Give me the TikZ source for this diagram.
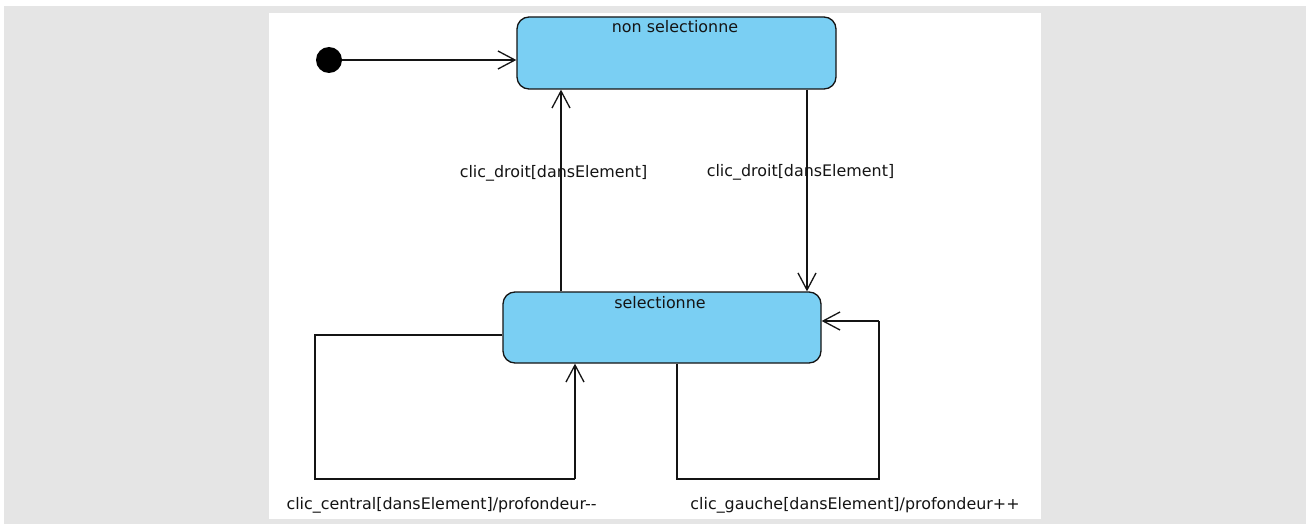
\documentclass[tikz,border=0pt]{standalone}
\usepackage{fontspec}
\setmainfont{DejaVu Sans}
\usetikzlibrary{arrows.meta}
\definecolor{stateblue}{RGB}{122,207,243}
\definecolor{framegray}{RGB}{229,229,229}
\definecolor{ink}{RGB}{20,20,20}
\tikzset{
  statebox/.style={draw=ink, line width=1.3pt, fill=stateblue, rounded corners=12pt, inner sep=0pt},
  statename/.style={anchor=base, inner sep=0pt, text=ink},
  trans/.style={draw=ink, line width=1.3pt, -{Straight Barb[length=17pt, width=18pt, line width=1.3pt]}},
  plain/.style={draw=ink, line width=1.3pt},
  guard/.style={anchor=base, inner sep=0pt, text=ink},
}
\begin{document}
\begin{tikzpicture}[x=1pt, y=-1pt, font=\fontsize{15.9}{18}\selectfont]
  % canvas and frame
  \useasboundingbox (0,0) rectangle (1307,524);
  \fill[white] (0,0) rectangle (1307,524);
  \fill[framegray] (4,6) rectangle (1306,524);
  \fill[white] (269,13) rectangle (1041,519);

  % states
  \node[statebox, minimum width=319pt, minimum height=72pt] (nonsel) at (676.5,53) {};
  \node[statename] (nonselname) at (675,33) {non selectionne};
  \node[statebox, minimum width=318pt, minimum height=71pt] (sel) at (662,327.5) {};
  \node[statename] (selname) at (660,308) {selectionne};

  % initial pseudo-state
  \node[circle, fill=black, minimum size=26pt, inner sep=0pt] (init) at (329,60) {};
  \draw[trans] (init) -- (nonsel.west |- init);

  % routing points
  \coordinate (xup) at (561,0);
  \coordinate (xdown) at (807,0);
  \coordinate (la) at (315,335);
  \coordinate (lb) at (575,479);
  \coordinate (ra) at (677,479);
  \coordinate (rb) at (879,321);

  % selectionne -> non selectionne
  \draw[trans] (xup |- sel.north) -- (xup |- nonsel.south);
  \node[guard] (g1) at (553.5,178) {clic\_droit[dansElement]};

  % non selectionne -> selectionne
  \draw[trans] (xdown |- nonsel.south) -- (xdown |- sel.north);
  \node[guard] (g2) at (800.5,177) {clic\_droit[dansElement]};

  % self loop (left)
  \draw[plain] (sel.west |- la) -- (la) -- (la |- lb) -- (lb);
  \draw[trans] (lb) -- (lb |- sel.south);
  \node[guard] (g3) at (441.5,509) {clic\_central[dansElement]/profondeur-\kern0pt-};

  % self loop (right)
  \draw[plain] (ra |- sel.south) -- (ra) -- (rb |- ra) -- (rb);
  \draw[trans] (rb) -- (sel.east |- rb);
  \node[guard] (g4) at (855,509) {clic\_gauche[dansElement]/profondeur++};
\end{tikzpicture}
\end{document}
